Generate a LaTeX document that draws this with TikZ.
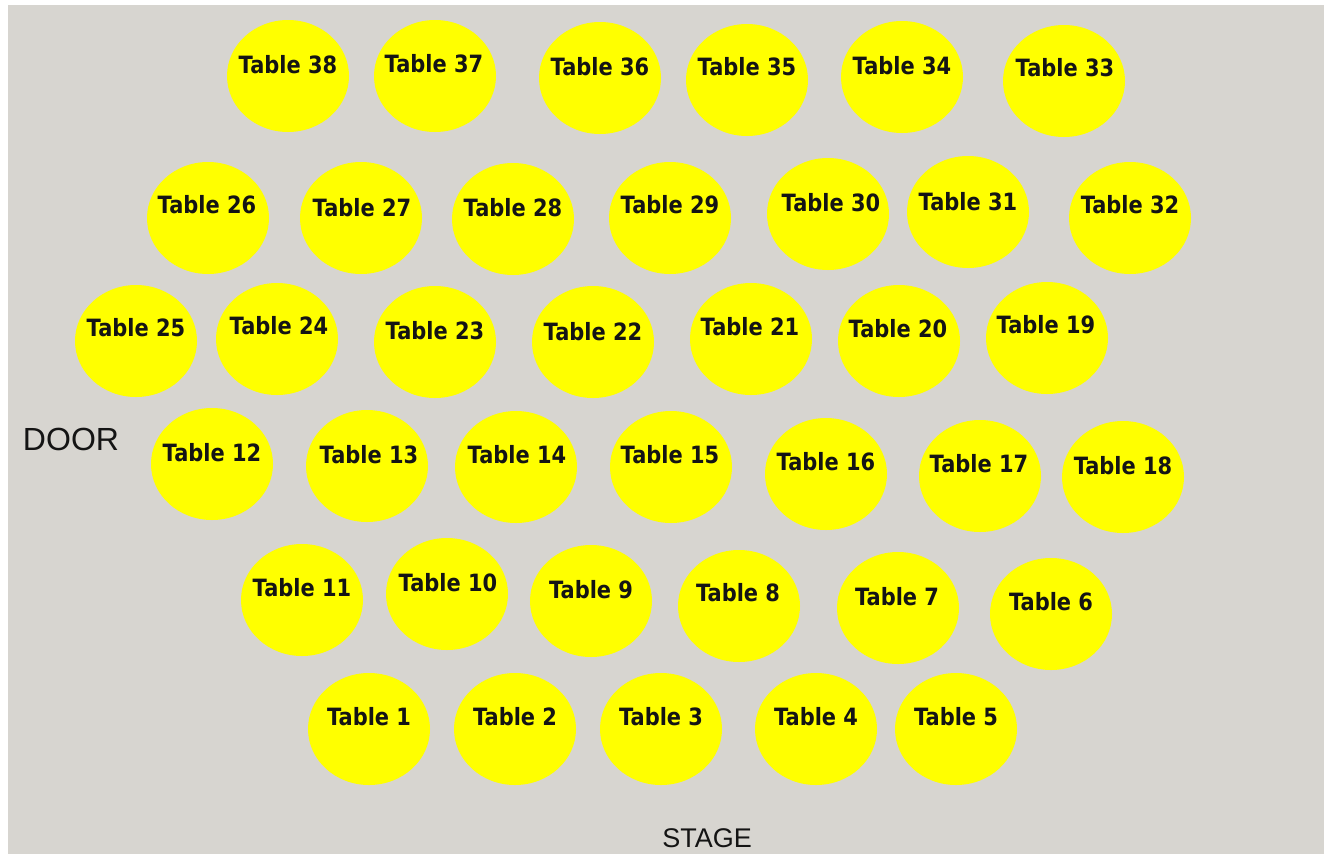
\documentclass[tikz,border=0pt]{standalone}
\usepackage{fontspec}
\setmainfont{Liberation Sans}
\newfontfamily\tablefont[FakeStretch=0.88]{DejaVu Sans}
\usetikzlibrary{shapes.geometric}
\definecolor{floorgray}{RGB}{215,213,208}
\definecolor{tableyellow}{RGB}{255,255,0}
\definecolor{inkblack}{RGB}{20,20,20}
\begin{document}
\begin{tikzpicture}[x=1pt,y=-1pt,
  tbl/.style={ellipse,fill=tableyellow,inner sep=0pt,minimum width=122pt,minimum height=112pt},
  tbllabel/.style={inner sep=0pt,text=inkblack,font=\tablefont\bfseries\fontsize{23.8}{26}\selectfont},
  roomlabel/.style={inner sep=0pt,text=inkblack}]
\useasboundingbox (0,0) rectangle (1324,854);
\fill[white] (0,0) rectangle (1324,854);
\fill[floorgray] (8,5) rectangle (1324,854);
% tables: number / centre / label position
\foreach \n/\cx/\cy/\lx/\ly in {
  38/288/76/288/65, 37/435/76/434/64, 36/600/78/600/67, 35/747/80/747/67,
  34/902/77/902/66, 33/1064/81/1065/68,
  26/208/218/207/205, 27/361/218/362/208, 28/513/219/513/208, 29/670/218/670/205,
  30/828/214/831/203, 31/968/212/968/202, 32/1130/218/1130/205,
  25/136/341/136/328, 24/277/339/279/326, 23/435/342/435/331, 22/593/342/593/332,
  21/751/339/750/327, 20/899/341/898/329, 19/1047/338/1046/325,
  12/212/464/212/453, 13/367/466/369/455, 14/516/467/517/455, 15/671/467/670/455,
  16/826/474/826/462, 17/980/476/979/464, 18/1123/477/1123/466,
  11/302/600/302/588, 10/447/594/448/583, 9/591/601/591/590, 8/739/606/738/593,
  7/898/608/897/597, 6/1051/614/1051/602,
  1/369/729/369/717, 2/515/729/515/717, 3/661/729/661/717, 4/816/729/816/717,
  5/956/729/956/717}
{
  \node[tbl] (t\n) at (\cx,\cy) {};
  \node[tbllabel] (l\n) at (\lx,\ly) {Table \n};
}
\node[roomlabel,font=\fontsize{32}{36}\selectfont] (door) at (71,439) {DOOR};
\node[roomlabel,font=\fontsize{27}{30}\selectfont] (stage) at (707,838) {STAGE};
\end{tikzpicture}
\end{document}
